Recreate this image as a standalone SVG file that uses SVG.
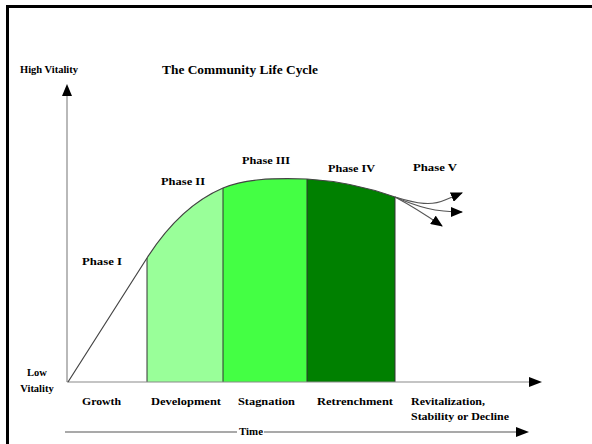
<svg xmlns="http://www.w3.org/2000/svg" width="592" height="444" viewBox="0 0 592 444">
<defs>
<style>
text{font-family:"Liberation Serif","Times New Roman",serif;font-weight:bold;fill:#000}
.t10{font-size:10.5px}
.t11{font-size:12.5px}
.axis{stroke:#8a8a8a;stroke-width:1.2;fill:none}
.div{stroke:#333;stroke-width:1}
.curve{stroke:#444;stroke-width:1.2;fill:none}
.pv{stroke:#555;stroke-width:1.1;fill:none;marker-end:url(#ah)}
</style>
<marker id="ah" viewBox="0 0 12 10" refX="11" refY="5" markerWidth="12" markerHeight="10" markerUnits="userSpaceOnUse" orient="auto">
<path d="M0,0 L12,5 L0,10 Z" fill="#000"/>
</marker>
</defs>
<rect x="0" y="0" width="592" height="444" fill="#fff"/>
<path d="M7.5,450 L7.5,6.5 L600,6.5" stroke="#000" stroke-width="3" fill="none"/>

<g id="title"><text class="t11" x="162" y="74" textLength="156" lengthAdjust="spacingAndGlyphs">The Community Life Cycle</text></g>
<g id="high-vitality"><text class="t10" x="20" y="73" textLength="58" lengthAdjust="spacingAndGlyphs">High Vitality</text></g>
<g id="low-vitality"><text class="t10" x="37" y="376" text-anchor="middle">Low</text><text class="t10" x="37" y="392" text-anchor="middle">Vitality</text></g>

<g id="phase-regions">
<path id="region-development" d="M147,258 C170,222 195,200 223,188 L223,382 L147,382 Z" fill="#99ff99"/>
<path id="region-stagnation" d="M223,188 C245,179 270,178 307,179 L307,382 L223,382 Z" fill="#44ff44"/>
<path id="region-retrenchment" d="M307,179 C340,181 370,188 395,197 L395,382 L307,382 Z" fill="#008000"/>
<line class="div" x1="147" y1="258" x2="147" y2="382"/>
<line class="div" x1="223" y1="188" x2="223" y2="382"/>
<line class="div" x1="307" y1="179" x2="307" y2="382"/>
<line class="div" x1="395" y1="197" x2="395" y2="382"/>
</g>

<g id="connectors">
<line class="axis" x1="67" y1="96" x2="67" y2="382"/>
<path d="M67,84 L72,96 L62,96 Z" fill="#000"/>
<line class="axis" x1="67" y1="382" x2="530" y2="382"/>
<path d="M542,382 L529,377 L529,387 Z" fill="#000"/>
<path class="curve" d="M68,382 L147,258 C170,222 195,200 223,188 C245,179 270,178 307,179 C340,181 370,188 395,197"/>
<path class="pv" d="M395,197 C418,204 432,206 445,200 L462,193"/>
<path class="pv" d="M395,197 C418,207 435,212 462,212"/>
<path class="pv" d="M395,197 C410,205 426,215 442,226"/>
<line stroke="#555" stroke-width="1.2" x1="65" y1="432" x2="237" y2="432"/>
<line stroke="#555" stroke-width="1.2" x1="264" y1="432" x2="517" y2="432"/>
<path d="M529,432 L516,427 L516,437 Z" fill="#000"/>
</g>

<g id="phase-labels">
<text class="t10" x="82" y="265" textLength="40" lengthAdjust="spacingAndGlyphs">Phase I</text>
<text class="t10" x="161" y="185" textLength="44" lengthAdjust="spacingAndGlyphs">Phase II</text>
<text class="t10" x="242" y="164" textLength="48" lengthAdjust="spacingAndGlyphs">Phase III</text>
<text class="t10" x="328" y="172" textLength="47" lengthAdjust="spacingAndGlyphs">Phase IV</text>
<text class="t10" x="413" y="171" textLength="44" lengthAdjust="spacingAndGlyphs">Phase V</text>
</g>

<g id="stage-labels">
<text class="t10" x="82" y="405" textLength="39" lengthAdjust="spacingAndGlyphs">Growth</text>
<text class="t10" x="151" y="405" textLength="70" lengthAdjust="spacingAndGlyphs">Development</text>
<text class="t10" x="238" y="405" textLength="57" lengthAdjust="spacingAndGlyphs">Stagnation</text>
<text class="t10" x="317" y="405" textLength="76" lengthAdjust="spacingAndGlyphs">Retrenchment</text>
<text class="t10" x="411" y="405" textLength="74" lengthAdjust="spacingAndGlyphs">Revitalization,</text>
<text class="t10" x="411" y="420" textLength="98" lengthAdjust="spacingAndGlyphs">Stability or Decline</text>
<text class="t10" x="239" y="435" textLength="24" lengthAdjust="spacingAndGlyphs">Time</text>
</g>
</svg>
